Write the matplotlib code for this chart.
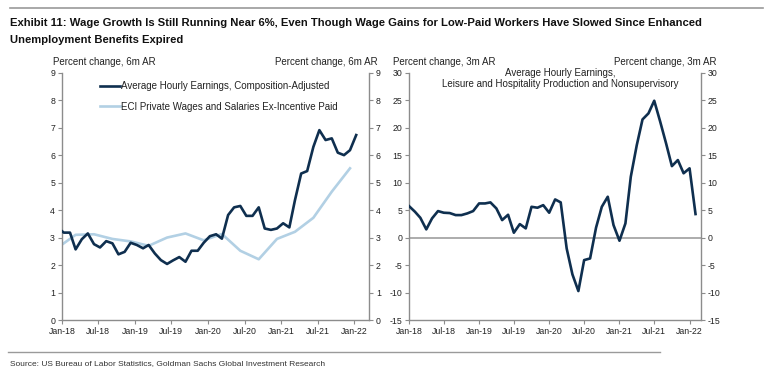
import numpy as np
import pandas as pd
import matplotlib
matplotlib.use('Agg')
import matplotlib.pyplot as plt
import matplotlib.dates as mdates

plt.rcParams['font.family'] = ['Liberation Sans', 'DejaVu Sans']
plt.rcParams['axes.unicode_minus'] = False

# left panel: composition-adjusted AHE (monthly, Dec-17 .. Jan-22), 6m AR
ahe_dates = pd.date_range('2017-12-01', '2022-01-01', freq='MS') + pd.Timedelta(days=9)
ahe_comp = [3.36,
            3.18, 3.18, 2.57, 2.94, 3.15, 2.76, 2.64, 2.87, 2.79, 2.39, 2.48, 2.81,
            2.73, 2.61, 2.73, 2.42, 2.18, 2.04, 2.17, 2.29, 2.12, 2.52, 2.52, 2.81,
            3.05, 3.12, 2.96, 3.82, 4.10, 4.15, 3.79, 3.79, 4.10, 3.33, 3.28, 3.33,
            3.52, 3.37, 4.36, 5.33, 5.42, 6.30, 6.91, 6.55, 6.61, 6.09, 6.00, 6.18,
            6.73]

# ECI private wages & salaries ex-incentive paid (quarterly)
eci_dates = pd.date_range('2017-12-01', '2021-12-01', freq='3MS') + pd.Timedelta(days=9)
eci = [2.63, 3.10, 3.12, 2.95, 2.86, 2.70, 3.00, 3.15, 2.90, 3.13, 2.52, 2.21,
       2.95, 3.21, 3.72, 4.67, 5.52]

# right panel: leisure & hospitality AHE, 3m AR (monthly, Jan-18 .. Feb-22)
lh_dates = pd.date_range('2018-01-01', '2022-02-01', freq='MS')
lh = [5.73, 4.70, 3.60, 1.49, 3.49, 4.82, 4.52, 4.46, 4.09, 4.09, 4.40, 4.82,
      6.21, 6.21, 6.40, 5.30, 3.18, 4.15, 0.88, 2.45, 1.67, 5.60, 5.43, 5.90,
      4.52, 6.94, 6.40, -1.97, -6.70, -9.73, -4.10, -3.80, 1.80, 5.60, 7.43, 2.27,
      -0.58, 2.58, 11.07, 16.80, 21.50, 22.60, 24.90, 21.10, 17.10, 13.00, 14.10, 11.70,
      12.60, 4.28]

dark = '#0f2f4f'
light = '#b2d0e4'
spine_col = '#8c8c8c'
txt = '#222222'
narrow = ['Liberation Sans Narrow', 'Liberation Sans']

W, H = 769, 374
fig = plt.figure(figsize=(W / 100, H / 100), dpi=100)


def box(x0, x1, ytop, ybot):
    return [x0 / W, 1 - ybot / H, (x1 - x0) / W, (ybot - ytop) / H]


def style(ax):
    ax.spines['top'].set_visible(False)
    for s in ['left', 'right', 'bottom']:
        ax.spines[s].set_color(spine_col)
        ax.spines[s].set_linewidth(1.0)
    ax.tick_params(axis='both', which='both', direction='out', length=3, width=0.8,
                   color=spine_col, labelsize=6.3, labelcolor=txt, pad=2)
    ax.tick_params(axis='y', left=True, right=True, labelleft=True, labelright=True)
    ax.xaxis.set_major_locator(mdates.MonthLocator(bymonth=[1, 7]))
    ax.xaxis.set_major_formatter(mdates.DateFormatter('%b-%y'))


ax1 = fig.add_axes(box(62, 369, 72.7, 320))
ax1.plot(ahe_dates, ahe_comp, color=dark, lw=1.9, label='Average Hourly Earnings, Composition-Adjusted', zorder=3)
ax1.plot(eci_dates, eci, color=light, lw=1.9, label='ECI Private Wages and Salaries Ex-Incentive Paid', zorder=2)
ax1.set_xlim(pd.Timestamp('2018-01-01'), pd.Timestamp('2022-03-15'))
ax1.set_ylim(0, 9)
ax1.set_yticks(range(0, 10))
style(ax1)
ax1.text(-0.03, 1.022, 'Percent change, 6m AR', transform=ax1.transAxes, ha='left', va='bottom',
         fontsize=7, color=txt)
ax1.text(1.027, 1.022, 'Percent change, 6m AR', transform=ax1.transAxes, ha='right', va='bottom',
         fontsize=7, color=txt)
ax1.legend(loc='upper left', bbox_to_anchor=(0.124, 0.965), frameon=False, fontsize=7,
           handlelength=2.1, handletextpad=0.1, labelspacing=1.05, borderpad=0, borderaxespad=0,
           labelcolor=txt)

ax2 = fig.add_axes(box(409, 700.7, 72.7, 320))
ax2.axhline(0, color='#a6a6a6', lw=1.3, zorder=1)
ax2.plot(lh_dates, lh, color=dark, lw=1.9, zorder=3)
ax2.set_xlim(pd.Timestamp('2018-01-01'), pd.Timestamp('2022-02-28'))
ax2.set_ylim(-15, 30)
ax2.set_yticks(range(-15, 31, 5))
style(ax2)
ax2.text(-0.055, 1.022, 'Percent change, 3m AR', transform=ax2.transAxes, ha='left', va='bottom',
         fontsize=7, color=txt)
ax2.text(1.055, 1.022, 'Percent change, 3m AR', transform=ax2.transAxes, ha='right', va='bottom',
         fontsize=7, color=txt)
ax2.text(0.518, 0.977, 'Average Hourly Earnings,\nLeisure and Hospitality Production and Nonsupervisory',
         transform=ax2.transAxes, ha='center', va='center', fontsize=7, color=txt, linespacing=1.15)

# header / footer
fig.add_artist(plt.Line2D([10 / W, 763 / W], [1 - 7.5 / H, 1 - 7.5 / H], color='#9a9a9a', lw=1.2))
fig.text(10 / W, 1 - 23 / H, 'Exhibit 11: Wage Growth Is Still Running Near 6%, Even Though Wage Gains '
         'for Low-Paid Workers Have Slowed Since Enhanced', ha='left', va='center',
         fontsize=8.15, fontweight='bold', family=narrow, color='#111111')
fig.text(10 / W, 1 - 40 / H, 'Unemployment Benefits Expired', ha='left', va='center',
         fontsize=8.15, fontweight='bold', family=narrow, color='#111111')
fig.add_artist(plt.Line2D([8 / W, 660 / W], [1 - 352 / H, 1 - 352 / H], color='#9a9a9a', lw=1.0))
fig.text(10 / W, 1 - 364 / H, 'Source: US Bureau of Labor Statistics, Goldman Sachs Global Investment Research',
         ha='left', va='center', fontsize=6.05, family=narrow, color='#333333')

fig.savefig('out.png', dpi=100, facecolor='white')
